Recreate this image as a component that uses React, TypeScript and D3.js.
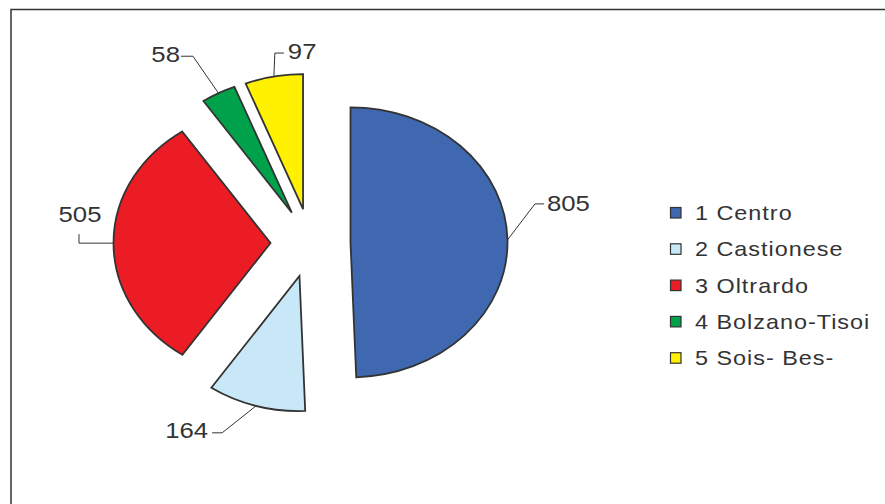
import React from "react";
import * as d3 from "d3";

const categories = ["1 Centro", "2 Castionese", "3 Oltrardo", "4 Bolzano-Tisoi", "5 Sois- Bes-"];
const values = [805, 164, 505, 58, 97];
const colors = ["#3F68B1", "#C8E8F8", "#EC1C24", "#00A14B", "#FFF100"];
// label leader layout: knee offset from anchor, then end segment
const leaders = [
  { kx: 27.5, ky: -36, ex: 9, ey: 0, anchor: "start", tx: 3, ty: 7 },
  { kx: -34, ky: 27, ex: -10, ey: 0, anchor: "end", tx: -4, ty: 5 },
  { kx: -34.5, ky: 0, ex: 0, ey: -9, anchor: "middle", tx: 1, ty: -12 },
  { kx: -25.5, ky: -37, ex: -12, ey: 0, anchor: "end", tx: -1, ty: 6 },
  { kx: 1, ky: -23.5, ex: 9, ey: 0, anchor: "start", tx: 4, ty: 6 },
];

const W = 885;
const H = 504;
const cx = 310.5;
const cy = 243;
const R = 157;
const K = 135 / 157;
const EXPLODE = 40;
const SX = 1.17;
const FONT = "Arial, 'Liberation Sans', Helvetica, sans-serif";
const TXT = "#333333";

export default function App() {
  const pie = d3.pie<number>().sort(null).value((d) => d);
  const arcs = pie(values);
  const arc = d3.arc<d3.PieArcDatum<number>>().innerRadius(0).outerRadius(R);

  const legendY = d3.scaleLinear().domain([0, 1]).range([213, 249.3]);

  return (
    <svg
      width={W}
      height={H}
      style={{ position: "absolute", left: 0, top: 0, background: "#fff" }}
      fontFamily={FONT}
    >
      <rect x={0} y={0} width={W} height={H} fill="#fff" />
      <rect x={11} y={9.5} width={W + 100} height={H + 100} fill="none" stroke="#333" strokeWidth={1.5} />

      <g transform={`translate(${cx},${cy}) scale(1,${K})`}>
        {arcs.map((a, i) => {
          const m = (a.startAngle + a.endAngle) / 2;
          const dx = EXPLODE * Math.sin(m);
          const dy = -EXPLODE * Math.cos(m);
          return (
            <path
              key={i}
              d={arc(a) || ""}
              transform={`translate(${dx},${dy})`}
              fill={colors[i]}
              stroke="#333"
              strokeWidth={1.8}
              strokeLinejoin="miter"
              vectorEffect="non-scaling-stroke"
            />
          );
        })}
      </g>

      {arcs.map((a, i) => {
        const m = (a.startAngle + a.endAngle) / 2;
        const r = EXPLODE + R;
        const ax = cx + r * Math.sin(m);
        const ay = cy - r * Math.cos(m) * K;
        const L = leaders[i];
        const kx = ax + L.kx;
        const ky = ay + L.ky;
        const ex = kx + L.ex;
        const ey = ky + L.ey;
        return (
          <g key={i}>
            <polyline
              points={`${ax},${ay} ${kx},${ky} ${ex},${ey}`}
              fill="none"
              stroke="#333"
              strokeWidth={1}
            />
            <text
              transform={`translate(${ex + L.tx},${ey + L.ty}) scale(${SX},1)`}
              textAnchor={L.anchor as any}
              fontSize={22}
              fill={TXT}
            >
              {values[i]}
            </text>
          </g>
        );
      })}

      {categories.map((c, i) => {
        const y = legendY(i);
        return (
          <g key={c}>
            <rect x={670.5} y={y - 5.5} width={10.5} height={10.5} fill={colors[i]} stroke="#333" strokeWidth={1.2} />
            <text
              transform={`translate(695,${y + 7}) scale(${SX},1)`}
              fontSize={20}
              letterSpacing={0.85}
              fill={TXT}
            >
              {c}
            </text>
          </g>
        );
      })}
    </svg>
  );
}
